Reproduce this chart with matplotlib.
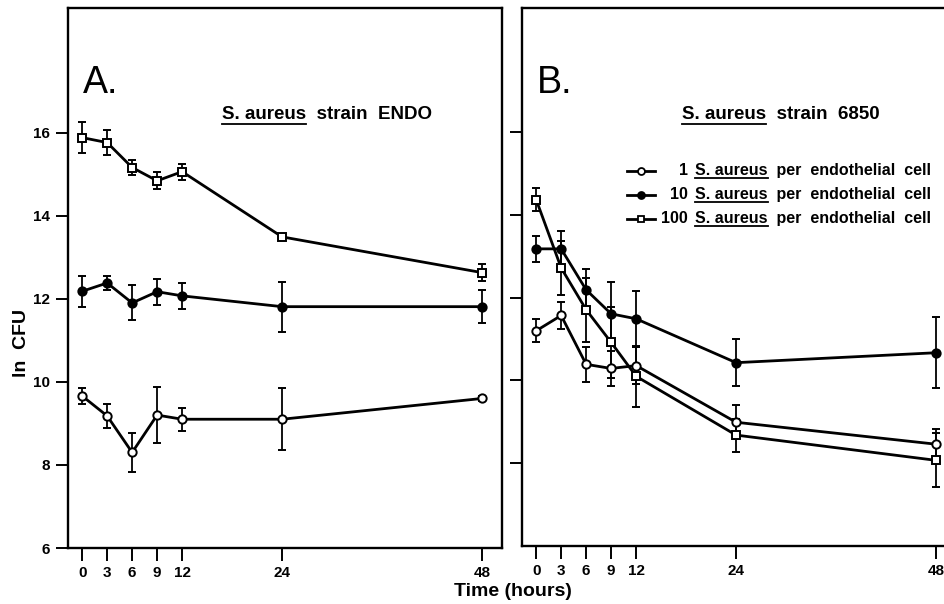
import matplotlib
matplotlib.use('Agg')
import matplotlib.pyplot as plt
from matplotlib.lines import Line2D
from matplotlib.transforms import IdentityTransform

plt.rcParams['font.family'] = ['Liberation Sans', 'DejaVu Sans']

# 時間點 (hours)
hours = [0, 3, 6, 9, 12, 24, 48]
y_ticks = [6, 8, 10, 12, 14, 16]

# A. strain ENDO
a_1 = [9.66, 9.18, 8.30, 9.20, 9.10, 9.10, 9.60]
a_1_err = [0.20, 0.28, 0.48, 0.68, 0.28, 0.75, 0.06]
a_10 = [12.18, 12.38, 11.90, 12.17, 12.07, 11.81, 11.81]
a_10_err = [0.38, 0.17, 0.42, 0.31, 0.32, 0.60, 0.40]
a_100 = [15.88, 15.76, 15.16, 14.84, 15.06, 13.49, 12.63]
a_100_err = [0.37, 0.30, 0.18, 0.20, 0.19, 0.05, 0.20]

# B. strain 6850
b_1 = [11.20, 11.57, 10.39, 10.29, 10.36, 8.99, 8.46]
b_1_err = [0.28, 0.33, 0.42, 0.42, 0.44, 0.41, 0.37]
b_10 = [13.18, 13.18, 12.19, 11.61, 11.49, 10.43, 10.67]
b_10_err = [0.32, 0.42, 0.50, 0.77, 0.68, 0.57, 0.86]
b_100 = [14.37, 12.72, 11.71, 10.92, 10.10, 8.68, 8.07]
b_100_err = [0.28, 0.65, 0.77, 0.86, 0.73, 0.40, 0.65]

legend_counts = ['1', '10', '100']

W, H = 944, 604
fig = plt.figure(figsize=(W / 100, H / 100), dpi=100)
axA = fig.add_axes([68 / W, 56 / H, 434 / W, 540 / H])
axB = fig.add_axes([522 / W, 58 / H, 434 / W, 538 / H])


def style(ax, show_labels):
    ax.set_xlim(-1.7, 50.4)
    ax.set_ylim(6, 19)
    for s in ax.spines.values():
        s.set_linewidth(1.7)
    ax.set_xticks(hours)
    if show_labels:
        ax.set_yticks(y_ticks)
    else:
        ax.set_yticks(y_ticks[1:])
        ax.set_yticklabels([])
    ax.tick_params(direction='out', length=9, width=1.4, labelsize=11, pad=4)
    for lab in ax.get_xticklabels() + ax.get_yticklabels():
        lab.set_fontweight('bold')


def series(ax, y, e, marker, filled):
    ax.errorbar(hours, y, yerr=e, color='black', lw=2.0, marker=marker, ms=6,
                mfc='black' if filled else 'white', mec='black', mew=1.4,
                elinewidth=1.3, capsize=3, capthick=1.3, zorder=3)


series(axA, a_1, a_1_err, 'o', False)
series(axA, a_10, a_10_err, 'o', True)
series(axA, a_100, a_100_err, 's', False)
series(axB, b_1, b_1_err, 'o', False)
series(axB, b_10, b_10_err, 'o', True)
series(axB, b_100, b_100_err, 's', False)
style(axA, True)
style(axB, False)

r = fig.canvas.get_renderer()


def underlined(x, y_img, text, prefix, size, gap, lw):
    # 在圖片座標畫文字, prefix 部份加底線
    y = H - y_img
    fig.text(x / W, y / H, text, fontsize=size, weight='bold', va='baseline')
    t = fig.text(x / W, y / H, prefix, fontsize=size, weight='bold', va='baseline')
    bb = t.get_window_extent(r)
    t.remove()
    fig.add_artist(Line2D([bb.x0, bb.x1], [y - gap, y - gap], color='black',
                          lw=lw, transform=IdentityTransform()))


fig.text(83 / W, 1 - 93 / H, 'A.', fontsize=27, va='baseline')
fig.text(537 / W, 1 - 93 / H, 'B.', fontsize=27, va='baseline')
underlined(222, 119, 'S. aureus  strain  ENDO', 'S. aureus', 13.5, 5, 1.3)
underlined(682, 119, 'S. aureus  strain  6850', 'S. aureus', 13.5, 5, 1.3)

# 圖例
markers = [('o', 'white'), ('o', 'black'), ('s', 'white')]
row_y = [175, 199, 223]
for (m, fc), n, yy in zip(markers, legend_counts, row_y):
    yc = H - yy + 4
    fig.add_artist(Line2D([627, 655], [yc, yc], color='black', lw=2.0,
                          transform=IdentityTransform()))
    fig.add_artist(Line2D([641], [yc], marker=m, ms=5, mfc=fc, mec='black',
                          mew=1.3, transform=IdentityTransform()))
    fig.text(688 / W, (H - yy) / H, n, fontsize=11.5, weight='bold',
             ha='right', va='baseline')
    underlined(695, yy, 'S. aureus  per  endothelial  cell', 'S. aureus', 11.5, 3, 1.3)

fig.text(22 / W, 1 - 343 / H, 'ln  CFU', rotation=90, fontsize=14,
         weight='bold', ha='center', va='center')
fig.text(513 / W, 1 - 591 / H, 'Time (hours)', fontsize=14, weight='bold',
         ha='center', va='center')

fig.savefig('out.png', dpi=100)
